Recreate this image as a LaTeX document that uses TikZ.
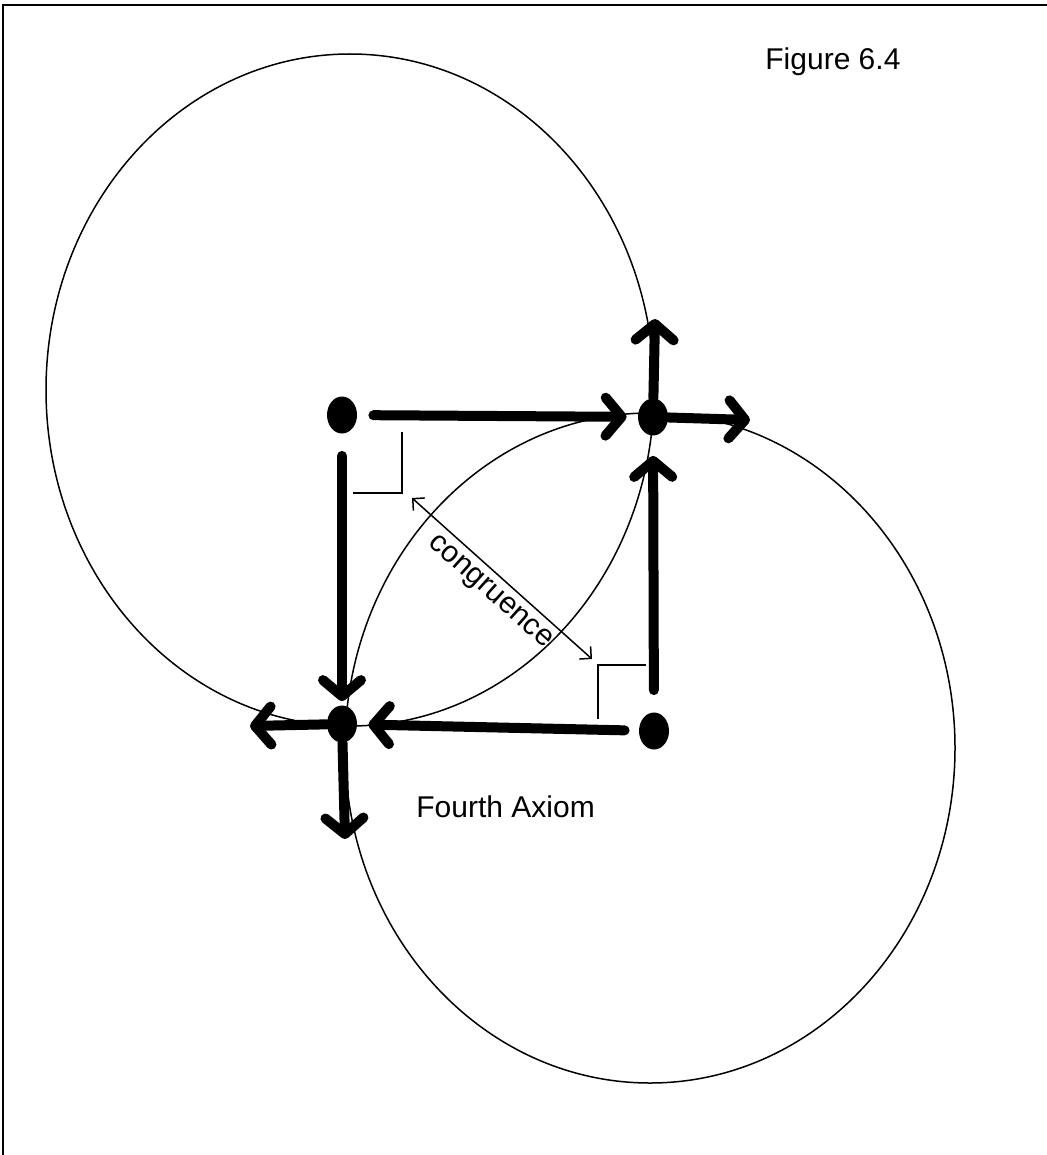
\documentclass[tikz,border=0pt]{standalone}
\usepackage{fontspec}
\setmainfont{Liberation Sans}
\usetikzlibrary{arrows.meta,shapes.geometric}

\begin{document}
\begin{tikzpicture}[x=0.5pt,y=-0.5pt,
  dot/.style={ellipse,fill=black,inner sep=0pt,minimum width=15pt,minimum height=18.5pt},
  move/.style={line width=5pt,line cap=round,-{Straight Barb[length=8pt,width=19pt,round]}},
  rim/.style={line width=0.75pt},
  figtext/.style={font=\fontsize{15}{18}\selectfont,inner sep=0pt}]
  \useasboundingbox (0,0) rectangle (1047,1155);

  % frame
  \draw[line width=1pt] (3,1160) -- (3,5) -- (1050,5);

  % circles
  \draw[rim] (350,390) ellipse [x radius=304, y radius=336];
  \draw[rim] (650,748) ellipse [x radius=305, y radius=335];

  % points
  \node[dot] (A) at (342,415) {};
  \node[dot] (B) at (653,417) {};
  \node[dot] (C) at (342,724) {};
  \node[dot] (D) at (654,731) {};

  \coordinate (Bup) at (655,319);
  \coordinate (Bright) at (750,420);
  \coordinate (Cleft) at (250,726);
  \coordinate (Cdown) at (345,839);

  % moves
  \draw[move,shorten <=8pt,shorten >=5.5pt] (A) -- (B);
  \draw[move,shorten <=11pt,shorten >=2pt] (A) -- (C);
  \draw[move,shorten <=11pt,shorten >=10pt] (D) -- (B);
  \draw[move,shorten <=7pt,shorten >=5.5pt] (D) -- (C);
  \draw[move] (B) -- (Bup);
  \draw[move] (B) -- (Bright);
  \draw[move] (C) -- (Cleft);
  \draw[move] (C) -- (Cdown);

  % right angles
  \draw[rim] (402,432) -- (402,493) -- (353,493);
  \draw[rim] (646,665) -- (598,665) -- (598,719);

  % congruence
  \coordinate (cgA) at (412,498);
  \coordinate (cgB) at (592,659);
  \draw[rim,{Straight Barb[length=4.2pt,width=8.5pt]}-{Straight Barb[length=4.2pt,width=8.5pt]}] (cgA) -- (cgB)
    node[midway,sloped,below,figtext,inner sep=3.5pt] (cong) {congruence};

  \node[figtext,anchor=base west] (fig) at (765,70) {Figure 6.4};
  \node[figtext,anchor=base west] (axiom) at (416,817) {Fourth Axiom};
\end{tikzpicture}
\end{document}
